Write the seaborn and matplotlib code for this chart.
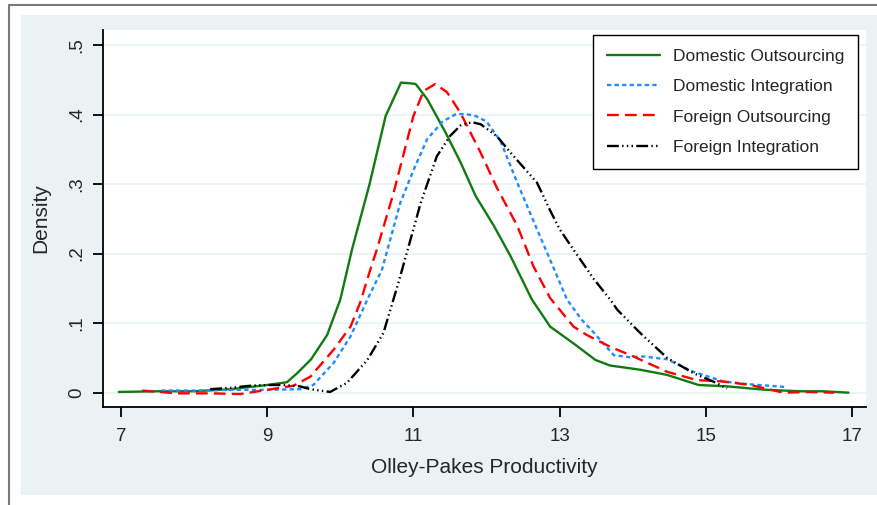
import matplotlib
matplotlib.use("Agg")
import matplotlib.pyplot as plt
import seaborn as sns
import pandas as pd
from matplotlib.patches import Rectangle
from matplotlib.lines import Line2D

# ---- data ----
series_names = ["Domestic Outsourcing", "Domestic Integration",
                "Foreign Outsourcing", "Foreign Integration"]

dom_out_x = [6.97, 7.5, 8.0, 8.5, 9.0, 9.27, 9.41, 9.6, 9.82, 10.0, 10.16, 10.4,
             10.62, 10.83, 10.95, 11.03, 11.19, 11.44, 11.65, 11.85, 12.1, 12.33,
             12.62, 12.87, 13.2, 13.49, 13.69, 14.1, 14.47, 14.9, 15.3, 15.61,
             15.84, 16.3, 16.6, 16.95]
dom_out_y = [0.001, 0.002, 0.002, 0.005, 0.011, 0.015, 0.028, 0.048, 0.083, 0.134,
             0.206, 0.30, 0.398, 0.446, 0.445, 0.444, 0.422, 0.374, 0.33, 0.283,
             0.24, 0.196, 0.134, 0.095, 0.07, 0.047, 0.039, 0.033, 0.0255, 0.011,
             0.009, 0.006, 0.004, 0.002, 0.002, 0.0]

dom_int_x = [7.55, 8.0, 8.5, 9.0, 9.45, 9.63, 9.91, 10.14, 10.37, 10.57, 10.82,
             11.0, 11.19, 11.4, 11.57, 11.7, 11.85, 12.0, 12.19, 12.42, 12.69,
             12.87, 13.1, 13.3, 13.47, 13.74, 13.95, 14.15, 14.47, 14.83, 15.24,
             15.6, 16.11]
dom_int_y = [0.003, 0.003, 0.004, 0.004, 0.005, 0.011, 0.043, 0.081, 0.134, 0.177,
             0.273, 0.32, 0.365, 0.39, 0.400, 0.401, 0.398, 0.39, 0.362, 0.302,
             0.235, 0.191, 0.134, 0.105, 0.086, 0.054, 0.051, 0.052, 0.048, 0.030,
             0.016, 0.012, 0.008]

for_out_x = [7.29, 7.77, 8.22, 8.63, 9.0, 9.36, 9.59, 9.91, 10.14, 10.27, 10.41,
             10.5, 10.73, 11.0, 11.14, 11.3, 11.46, 11.64, 11.92, 12.14, 12.42,
             12.64, 12.87, 13.19, 13.37, 13.69, 14.01, 14.47, 14.88, 15.24, 15.61,
             16.06, 16.4, 16.75]
for_out_y = [0.003, -0.001, -0.001, -0.002, 0.004, 0.01, 0.023, 0.062, 0.095,
             0.129, 0.177, 0.206, 0.288, 0.398, 0.434, 0.444, 0.432, 0.403, 0.345,
             0.295, 0.24, 0.182, 0.136, 0.095, 0.083, 0.066, 0.052, 0.03, 0.018,
             0.016, 0.011, 0.0, 0.001, 0.0]

for_int_x = [8.22, 8.5, 8.77, 9.0, 9.22, 9.45, 9.59, 9.86, 10.09, 10.37, 10.59,
             10.8, 11.1, 11.32, 11.5, 11.64, 11.8, 11.92, 12.14, 12.33, 12.69,
             12.87, 13.0, 13.2, 13.47, 13.69, 13.79, 14.1, 14.47, 14.83, 15.1, 15.29]
for_int_y = [0.005, 0.007, 0.01, 0.011, 0.011, 0.009, 0.005, 0.001, 0.014, 0.047,
             0.086, 0.16, 0.273, 0.34, 0.369, 0.384, 0.389, 0.386, 0.369, 0.345,
             0.302, 0.262, 0.235, 0.204, 0.163, 0.134, 0.119, 0.086, 0.05, 0.028,
             0.016, 0.006]

x_ticks = [7, 9, 11, 13, 15, 17]
y_ticks = [0, 0.1, 0.2, 0.3, 0.4, 0.5]
y_tick_labels = ["0", ".1", ".2", ".3", ".4", ".5"]

# ---- build long-form table ----
frames = []
for name, xs, ys in zip(series_names,
                        [dom_out_x, dom_int_x, for_out_x, for_int_x],
                        [dom_out_y, dom_int_y, for_out_y, for_int_y]):
    frames.append(pd.DataFrame({"x": xs, "y": ys, "series": name}))
df = pd.concat(frames, ignore_index=True)

colors = {"Domestic Outsourcing": "#117a11",
          "Domestic Integration": "#1e8cff",
          "Foreign Outsourcing": "#ff0000",
          "Foreign Integration": "#000000"}
dashes = {"Domestic Outsourcing": "",
          "Domestic Integration": (1.8, 1.4),
          "Foreign Outsourcing": (5.0, 2.6),
          "Foreign Integration": (5.0, 1.4, 0.6, 1.4, 0.6, 1.4, 0.6, 1.4)}

sns.set_style("white")
plt.rcParams["font.family"] = ["Liberation Sans", "DejaVu Sans"]

W, H = 877, 505
fig = plt.figure(figsize=(W / 100, H / 100), dpi=100)
fig.patch.set_facecolor("white")

# outer light panel and gray frame (behind the axes)
fig.add_artist(Rectangle((21 / W, 1 - 495 / H), (W - 21) / W, (495 - 15) / H,
                         transform=fig.transFigure, facecolor="#eaf2f3",
                         edgecolor="none", zorder=-10))
fig.add_artist(Line2D([8.5 / W, 8.5 / W], [0, 1 - 4.5 / H], transform=fig.transFigure,
                      color="#7a7a7a", lw=1.5, zorder=-10))
fig.add_artist(Line2D([8.5 / W, 1], [1 - 4.5 / H, 1 - 4.5 / H], transform=fig.transFigure,
                      color="#7a7a7a", lw=1.5, zorder=-10))

ax = fig.add_axes([103 / W, 1 - 406.7 / H, (866 - 103) / W, (406.7 - 30) / H])
ax.set_zorder(1)
ax.set_facecolor("white")

sns.lineplot(data=df, x="x", y="y", hue="series", style="series",
             hue_order=series_names, style_order=series_names,
             palette=colors, dashes=dashes, estimator=None, sort=False,
             linewidth=1.7, ax=ax)

ax.set_xlim(6.754, 17.19)
ax.set_ylim(-0.0202, 0.5216)
ax.set_xticks(x_ticks)
ax.set_xticklabels([str(t) for t in x_ticks], fontsize=13.5)
ax.set_yticks(y_ticks)
ax.set_yticklabels(y_tick_labels, fontsize=13.5, rotation=90, va="center")
ax.grid(axis="y", color="#eaf2f3", lw=1.2)
ax.grid(axis="x", visible=False)
ax.set_axisbelow(True)
for s in ["top", "right"]:
    ax.spines[s].set_visible(False)
for s in ["left", "bottom"]:
    ax.spines[s].set_color("black")
    ax.spines[s].set_linewidth(1.3)
ax.tick_params(axis="both", direction="out", length=7, width=1.3, color="black",
               left=True, bottom=True)
ax.tick_params(axis="x", pad=8)
ax.tick_params(axis="y", pad=6)
ax.set_xlabel("Olley-Pakes Productivity", fontsize=15, labelpad=10)
ax.set_ylabel("Density", fontsize=15, labelpad=13)

leg = ax.legend(loc="upper right",
                bbox_to_anchor=((857.5 - 103) / (866 - 103), (406.7 - 35) / (406.7 - 30)),
                fontsize=12.5, frameon=True, fancybox=False, borderpad=0.78,
                handlelength=3.1, handletextpad=0.7, labelspacing=0.88,
                borderaxespad=0)
leg.get_frame().set_edgecolor("black")
leg.get_frame().set_linewidth(1.0)
leg.get_frame().set_alpha(1)

fig.savefig("out.png", dpi=100)
